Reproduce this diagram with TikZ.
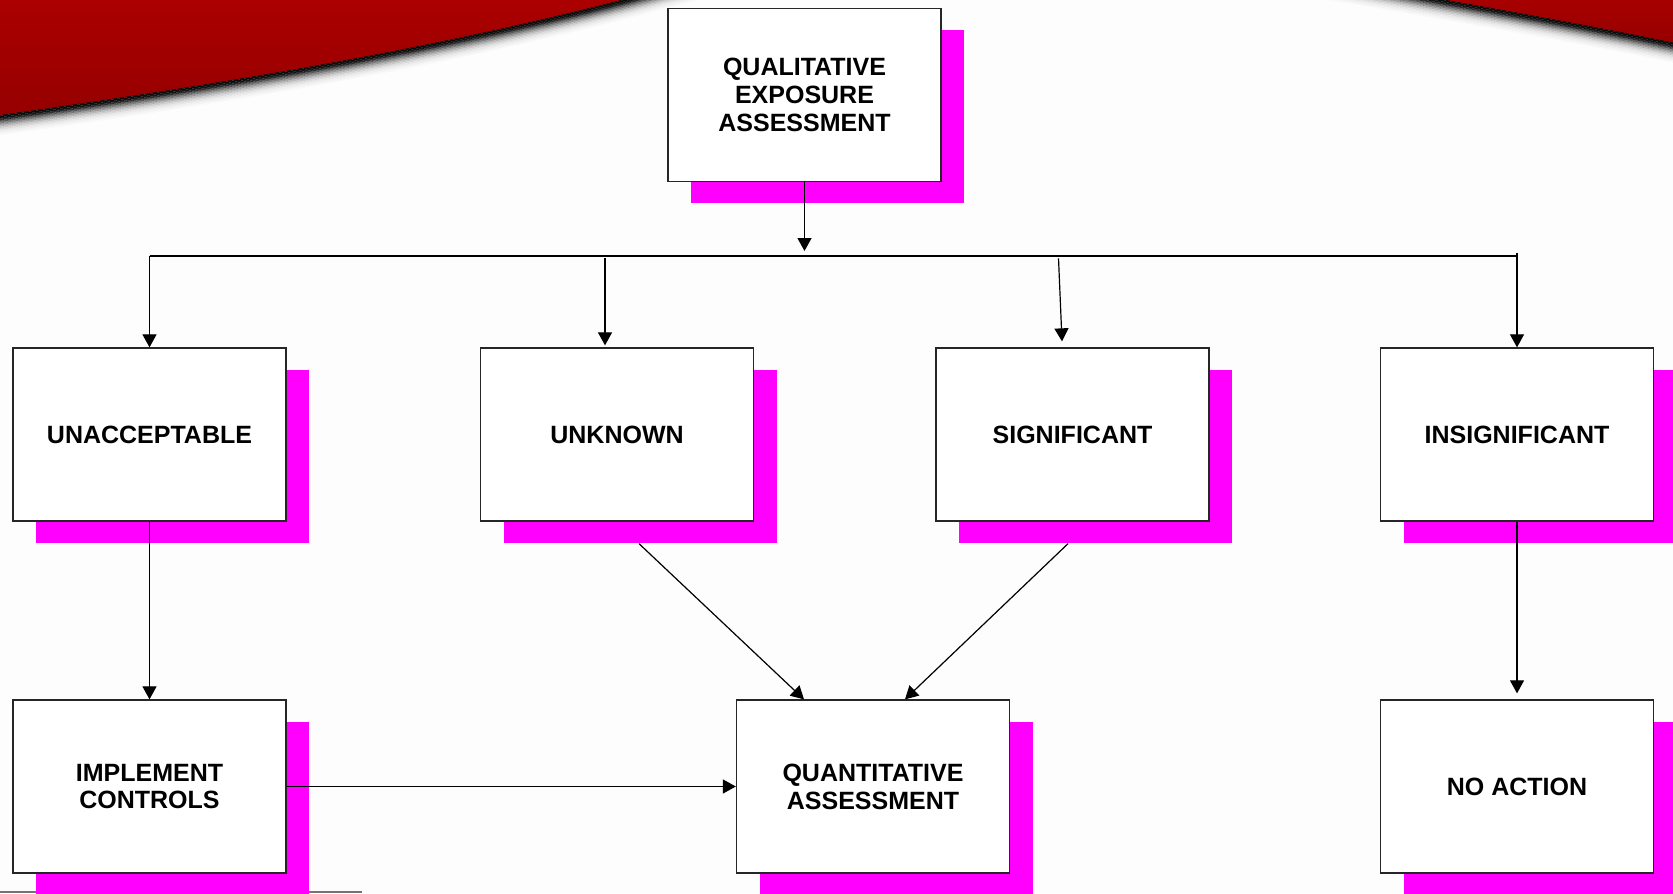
\documentclass[tikz,border=0pt]{standalone}
\usepackage{fontspec}
\setmainfont{Liberation Sans}
\usetikzlibrary{arrows.meta,shadows,calc}
\definecolor{pagebg}{RGB}{253,253,253}
\definecolor{boxshadow}{RGB}{255,0,255}
\definecolor{bannertop}{RGB}{176,0,0}
\definecolor{bannerbot}{RGB}{150,0,0}
\begin{document}
\begin{tikzpicture}[x=0.5pt,y=-0.5pt,
  box/.style={draw=black!85, line width=0.65pt, fill=white,
    minimum width=136.5pt, minimum height=86.5pt, inner sep=0pt,
    align=center, font=\fontsize{12.5pt}{13.9pt}\selectfont\bfseries,
    drop shadow={shadow xshift=11.6pt, shadow yshift=-10.9pt,
      fill=boxshadow, opacity=1}},
  flow/.style={draw=black, line width=0.6pt,
    -{Triangle[width=7pt,length=6.5pt]}},
  link/.style={draw=black, line width=0.6pt},
  edgeshade/.style={black, line width=0.8pt}]

\useasboundingbox (0,0) rectangle (1673,893);
\clip (0,0) rectangle (1673,893);
\fill[pagebg] (0,0) rectangle (1673,893);

% red banner with its soft dark edge
\foreach \d/\o in {0/0.95,1.5/0.95,3/0.9,4.5/0.8,6/0.62,7.5/0.48,9/0.36,10.5/0.26,12/0.18,13.5/0.12,15/0.08,16.5/0.05,18/0.03,19.5/0.015}{
  \draw[edgeshade, opacity=\o, shift={(0,\d)}]
    (0,115) .. controls (250,80) and (450,45) .. (640,-5) -- (720,-26);
  \draw[edgeshade, opacity=\o, shift={(0,\d)}]
    (1300,-25) .. controls (1450,0) and (1590,25) .. (1680,44);
}
\shade[top color=bannertop, bottom color=bannerbot]
  (0,-30) -- (0,115) .. controls (250,80) and (450,45) .. (640,-5) -- (720,-26) -- cycle;
\shade[top color=bannertop, bottom color=bannerbot]
  (1300,-25) .. controls (1450,0) and (1590,25) .. (1680,44) -- (1680,-25) -- cycle;

% thin gray strip along the bottom edge
\draw[black!55, line width=1pt] (0,891.5) -- (362,891.5);

% boxes
\node[box] (qual)  at (804.5,95)   {QUALITATIVE\\EXPOSURE\\ASSESSMENT};
\node[box] (unacc) at (149.5,434.5) {UNACCEPTABLE};
\node[box] (unk)   at (617,434.5)   {UNKNOWN};
\node[box] (sig)   at (1072.5,434.5) {SIGNIFICANT};
\node[box] (insig) at (1517,434.5)  {INSIGNIFICANT};
\node[box] (impl)  at (149.5,786.5) {IMPLEMENT\\CONTROLS};
\node[box] (quant) at (873,786.5)   {QUANTITATIVE\\ASSESSMENT};
\node[box] (noact) at (1517,786.5)  {NO ACTION};

% connector end points
\coordinate (busL) at (149.5,256);
\coordinate (busR) at (1517,256);
\coordinate (busM) at (804.5,251);
\coordinate (busTop) at ($(busR)+(0,-3)$);
\coordinate (unkIn) at ($(unk.north)+(-12,-89)$);
\coordinate (unkTip) at ($(unk.north)+(-12,-2)$);
\coordinate (sigIn) at ($(sig.north)+(-14,-89)$);
\coordinate (sigTip) at ($(sig.north)+(-10.5,-6)$);
\coordinate (unkOut) at ($(unk.south)+(22,22)$);
\coordinate (sigOut) at ($(sig.south)+(-4.5,22)$);
\coordinate (quantL) at ($(quant.north)+(-69,0)$);
\coordinate (quantR) at ($(quant.north)+(32,0)$);
\coordinate (noactTip) at ($(noact.north)+(0,-6)$);

% connectors
\draw[flow] (qual.south) -- (busM);
\draw[link] (busL) -- (busR);
\draw[flow] (busL) -- (unacc.north);
\draw[flow] (unkIn) -- (unkTip);
\draw[flow] (sigIn) -- (sigTip);
\draw[flow] (busTop) -- (insig.north);
\draw[flow] (unacc.south) -- (impl.north);
\draw[flow] (unkOut) -- (quantL);
\draw[flow] (sigOut) -- (quantR);
\draw[flow] (insig.south) -- (noactTip);
\draw[flow] (impl.east) -- (quant.west);
\end{tikzpicture}
\end{document}
